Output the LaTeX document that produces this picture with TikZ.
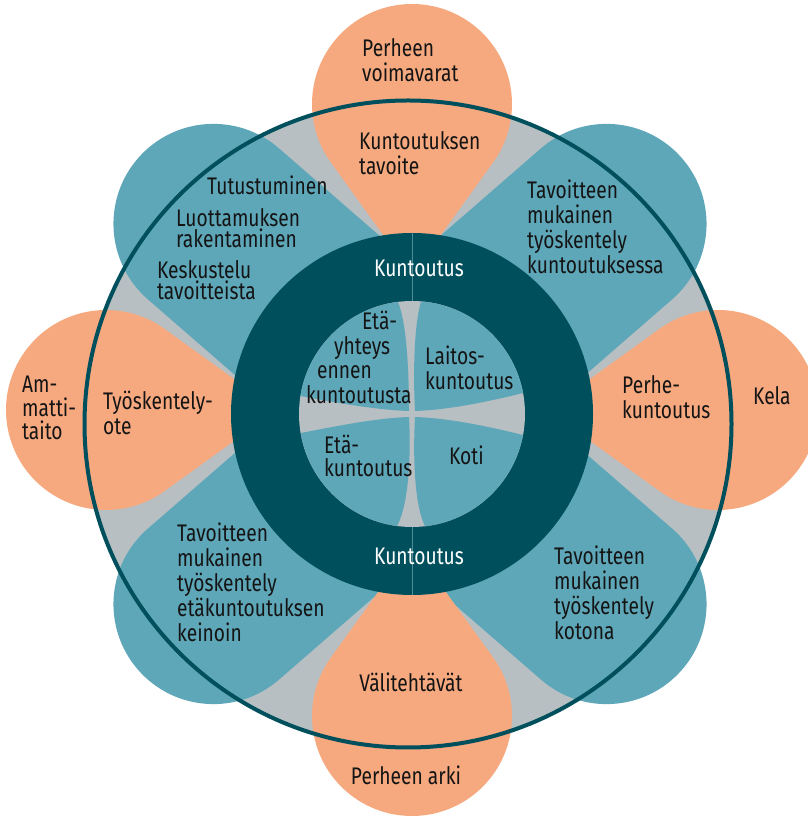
\documentclass[tikz,border=0pt]{standalone}
\usepackage{fontspec}
\setmainfont{Fira Sans}[FakeStretch=0.8]
\definecolor{petalorange}{RGB}{246,169,127}
\definecolor{petalteal}{RGB}{94,167,185}
\definecolor{ringdark}{RGB}{0,79,92}
\definecolor{fillgray}{RGB}{184,191,195}
\definecolor{dividerc}{RGB}{80,140,150}
\definecolor{ink}{RGB}{20,20,20}
\begin{document}
\begin{tikzpicture}[x=1pt,y=1pt,
  lbl/.style={inner sep=0pt, font=\fontsize{24}{25}\selectfont, text=ink, align=left, anchor=base west},
  tightlbl/.style={lbl, font=\fontsize{24}{21}\selectfont},
  midlbl/.style={lbl, font=\fontsize{24}{23.5}\selectfont},
  ringlbl/.style={inner sep=0pt, font=\fontsize{24}{25}\selectfont, text=white, anchor=base},
  clbl/.style={inner sep=0pt, font=\fontsize{24}{25}\selectfont, text=ink, anchor=base},
  opetal/.style={fill=petalorange},
  tpetal/.style={fill=petalteal},
  quad/.style={fill=petalteal},
  divider/.style={draw=dividerc, line width=0.9pt}]
\useasboundingbox (0,0) rectangle (808,819);
\clip (0,0) rectangle (808,819);
\fill[white] (0,0) rectangle (808,819);
\coordinate (oc) at (408,395);
\coordinate (rc) at (412,405);
% gray disk
\fill[fillgray] (oc) circle[radius=323.5];
% teal petals (axes slightly offset towards the vertical)
\foreach \sx/\sy/\r in {400.5/416/-49, 419.5/416/49, 419.5/394/131, 400.5/394/-131}{
  \fill[tpetal, shift={(\sx,\sy)}, rotate=\r] (-100,0) -- (-100,273) arc[start angle=180,end angle=0,radius=100] -- (100,0) -- cycle;
}
% orange petals
\foreach \r in {0,-90,180,90}{
  \fill[opetal, shift={(412,409)}, rotate=\r] (0,135) -- (81.1,247.5) arc[start angle=-35.8,end angle=215.8,radius=100] -- cycle;
}
% dark ring
\fill[ringdark] (rc) circle[radius=181];
\fill[fillgray] (rc) circle[radius=113];
\coordinate (dt1) at (412,518);
\coordinate (dt2) at (412,586);
\coordinate (db1) at (412,292);
\coordinate (db2) at (412,224);
\draw[divider] (dt1) -- (dt2);
\draw[divider] (db1) -- (db2);
% inner quadrants
\begin{scope}[shift={(412,405)}]
  \fill[quad] (3,3) .. controls (1,40) and (2,90) .. (9.1,112.6) arc[start angle=85.4,end angle=10.7,radius=113] .. controls (75,12) and (35,4) .. (3,3) -- cycle;
  \fill[quad] (-3,3) .. controls (-3,40) and (-5,90) .. (-14,112.1) arc[start angle=97.1,end angle=170.8,radius=113] .. controls (-75,11) and (-35,4) .. (-3,3) -- cycle;
  \fill[quad] (-3,-3) .. controls (-1,-40) and (-3,-90) .. (-14.9,-112) arc[start angle=262.4,end angle=189.7,radius=113] .. controls (-75,-12) and (-35,-4) .. (-3,-3) -- cycle;
  \fill[quad] (3,-3) .. controls (1,-40) and (2,-90) .. (13,-112.3) arc[start angle=276.6,end angle=349.3,radius=113] .. controls (75,-12) and (35,-4) .. (3,-3) -- cycle;
\end{scope}
% outer circle
\draw[ringdark, line width=4pt] (oc) circle[radius=323.5];
% labels (anchor = baseline of the last line)
\node[lbl] (voima) at (362,737) {Perheen\\voimavarat};
\node[lbl] (tavoite) at (359,644) {Kuntoutuksen\\tavoite};
\node[lbl] (tutus) at (207,624) {Tutustuminen};
\node[tightlbl] (luotto) at (176,571) {Luottamuksen\\rakentaminen};
\node[tightlbl] (keskus) at (157,519) {Keskustelu\\tavoitteista};
\node[lbl] (ne) at (527,545.7) {Tavoitteen\\mukainen\\työskentely\\kuntoutuksessa};
\node[lbl] (perhek) at (622,400.7) {Perhe-\\kuntoutus};
\node[lbl] (kela) at (753,414) {Kela};
\node[midlbl] (ammatti) at (22,379) {Am-\\matti-\\taito};
\node[lbl] (ote) at (103,384) {Työskentely-\\ote};
\node[lbl] (eta1) at (362,489) {Etä-};
\node[lbl] (eta2) at (334,464) {yhteys};
\node[lbl] (eta3) at (317,440.7) {ennen};
\node[lbl] (eta4) at (306,415.7) {kuntoutusta};
\node[lbl] (laitos) at (425,429) {Laitos-\\kuntoutus};
\node[midlbl] (etak) at (324,342.3) {Etä-\\kuntoutus};
\node[lbl] (koti) at (449,354) {Koti};
\node[ringlbl] (kt) at (419,542.3) {Kuntoutus};
\node[ringlbl] (kb) at (419,254) {Kuntoutus};
\node[lbl] (sw) at (177,177.3) {Tavoitteen\\mukainen\\työskentely\\etäkuntoutuksen\\keinoin};
\node[lbl] (se) at (554,179) {Tavoitteen\\mukainen\\työskentely\\kotona};
\node[clbl] (vali) at (411,127.3) {Välitehtävät};
\node[clbl] (arki) at (406,34) {Perheen arki};
\end{tikzpicture}
\end{document}
